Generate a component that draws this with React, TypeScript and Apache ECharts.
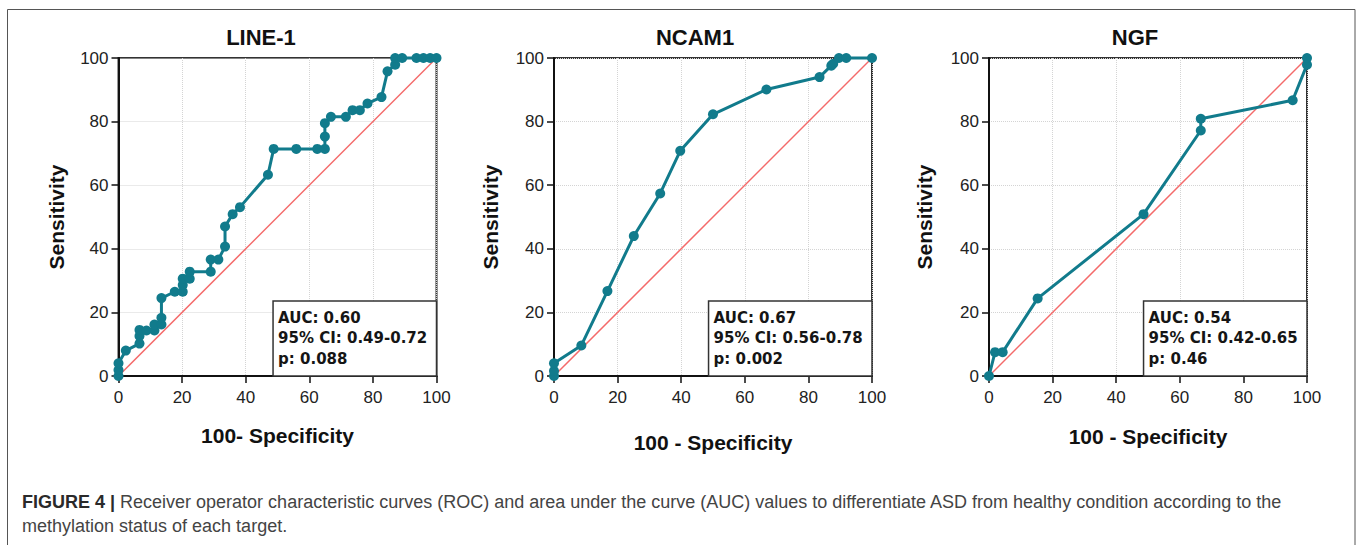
import React, { useEffect, useRef } from "react";
import * as echarts from "echarts";

const panelTitles = ["LINE-1", "NCAM1", "NGF"];
const xAxisNames = ["100- Specificity", "100 - Specificity", "100 - Specificity"];
const yAxisName = "Sensitivity";

const line1X = [0, 0, 0, 2.3, 6.6, 6.6, 6.6, 8.8, 11.3, 11.3, 13.5, 13.5, 13.5, 17.7, 20.2, 20.2, 20.2, 22.4, 22.4, 29.0, 29.0, 31.4, 33.5, 33.5, 35.9, 38.2, 47.0, 48.8, 55.9, 62.5, 64.9, 64.9, 64.9, 66.8, 71.5, 73.6, 75.9, 78.3, 82.7, 84.6, 87.0, 87.0, 89.2, 93.7, 95.9, 98.0, 100];
const line1Y = [0, 1.9, 4.0, 8.0, 10.2, 12.6, 14.5, 14.3, 14.3, 16.2, 16.2, 18.3, 24.5, 26.5, 26.5, 28.6, 30.6, 30.6, 32.8, 32.8, 36.6, 36.6, 40.7, 47.0, 50.9, 53.1, 63.3, 71.4, 71.4, 71.4, 71.4, 75.3, 79.5, 81.5, 81.5, 83.6, 83.6, 85.7, 87.7, 95.8, 97.9, 100, 100, 100, 100, 100, 100];

const ncam1X = [0, 0, 0, 8.6, 16.8, 25.1, 33.4, 39.7, 50.0, 66.8, 83.5, 87.2, 87.8, 89.6, 91.9, 100];
const ncam1Y = [0, 1.6, 4.0, 9.6, 26.7, 44.0, 57.4, 70.8, 82.3, 90.1, 94.0, 97.6, 98.2, 100, 100, 100];

const ngfX = [0, 1.9, 4.3, 15.3, 48.6, 66.6, 66.6, 95.5, 100, 100];
const ngfY = [0, 7.5, 7.5, 24.4, 50.9, 77.2, 80.9, 86.7, 97.9, 100];

const aucTexts = [
  ["AUC: 0.60", "95% CI: 0.49-0.72", "p: 0.088"],
  ["AUC: 0.67", "95% CI: 0.56-0.78", "p: 0.002"],
  ["AUC: 0.54", "95% CI: 0.42-0.65", "p: 0.46"],
];

const diagonalX = [0, 100];
const diagonalY = [0, 100];

const captionBold = "FIGURE 4 |";
const captionLine1 =
  " Receiver operator characteristic curves (ROC) and area under the curve (AUC) values to differentiate ASD from healthy condition according to the";
const captionLine2 = "methylation status of each target.";

const FONT = "'Liberation Sans', Arial, Helvetica, sans-serif";
const BOX_FONT = "'DejaVu Sans', Verdana, sans-serif";
const TEAL = "#117b8c";
const RED = "#f46a6a";

const gridLefts = [118.5, 554, 989];
const gridTop = 58;
const gridSize = 318;
const titleCenters = [261, 695, 1135];
const xNameGaps = [49, 56, 50];
const yNameGaps = [52, 53, 54];

function zip(xs: number[], ys: number[]) {
  return xs.map((x, i) => [x, ys[i]]);
}

export default function App() {
  const ref = useRef<HTMLDivElement>(null);

  useEffect(() => {
    document.body.style.margin = "0";
    const chart = echarts.init(ref.current!, undefined, { renderer: "svg" });
    const rocData = [zip(line1X, line1Y), zip(ncam1X, ncam1Y), zip(ngfX, ngfY)];

    const grids = gridLefts.map((left) => ({
      left,
      top: gridTop,
      width: gridSize,
      height: gridSize,
      show: true,
      borderColor: "#333",
      borderWidth: 2,
      backgroundColor: "transparent",
    }));

    const axisCommon = {
      type: "value" as const,
      min: 0,
      max: 100,
      interval: 20,
      axisLine: { show: true, onZero: false, lineStyle: { color: "#111", width: 2 } },
      axisTick: { show: true, inside: false, length: 7, lineStyle: { color: "#111", width: 1.5 } },
      splitLine: { show: true, lineStyle: { color: "#d4d4d4", type: "dotted" as const, width: 1 } },
      nameLocation: "middle" as const,
      nameTextStyle: { fontFamily: FONT, fontWeight: "bold" as const, fontSize: 21, color: "#111" },
    };

    const xAxes = gridLefts.map((_, i) => ({
      ...axisCommon,
      gridIndex: i,
      name: xAxisNames[i],
      nameGap: xNameGaps[i],
      axisLabel: { fontFamily: FONT, fontSize: 17, color: "#222", margin: 13 },
    }));
    const yAxes = gridLefts.map((_, i) => ({
      ...axisCommon,
      gridIndex: i,
      name: yAxisName,
      nameGap: yNameGaps[i],
      axisLabel: { fontFamily: FONT, fontSize: 17, color: "#222", margin: 10 },
    }));

    const series: any[] = [];
    gridLefts.forEach((_, i) => {
      series.push({
        type: "line",
        xAxisIndex: i,
        yAxisIndex: i,
        data: zip(diagonalX, diagonalY),
        showSymbol: false,
        symbol: "none",
        lineStyle: { color: RED, width: 1.5 },
        z: 2,
        silent: true,
      });
      series.push({
        type: "line",
        xAxisIndex: i,
        yAxisIndex: i,
        data: rocData[i],
        symbol: "circle",
        symbolSize: 10,
        showSymbol: true,
        clip: false,
        itemStyle: { color: TEAL },
        lineStyle: { color: TEAL, width: 3 },
        z: 3,
      });
    });

    const graphics: any[] = [
      {
        type: "rect",
        shape: { x: 7.5, y: 9.5, width: 1347.5, height: 600 },
        style: { fill: "none", stroke: "#555", lineWidth: 1 },
        silent: true,
        z: 0,
      },
    ];
    gridLefts.forEach((left, i) => {
      graphics.push({
        type: "text",
        x: titleCenters[i],
        y: 37,
        style: {
          text: panelTitles[i],
          fontFamily: FONT,
          fontWeight: "bold",
          fontSize: 22,
          fill: "#111",
          textAlign: "center",
          textVerticalAlign: "middle",
        },
        z: 100,
      });
      const boxLeft = left + gridSize * 0.486;
      const boxTop = gridTop + gridSize - 75;
      graphics.push({
        type: "rect",
        shape: { x: boxLeft, y: boxTop, width: left + gridSize - boxLeft, height: 75 },
        style: { fill: "#fff", stroke: "#333", lineWidth: 1.5 },
        z: 100,
      });
      aucTexts[i].forEach((t, j) => {
        graphics.push({
          type: "text",
          x: boxLeft + 5,
          y: boxTop + 16.5 + j * 20.8,
          style: {
            text: t,
            fontFamily: BOX_FONT,
            fontWeight: "bold",
            fontSize: 15,
            fill: "#151515",
            textAlign: "left",
            textVerticalAlign: "middle",
          },
          z: 101,
        });
      });
    });
    graphics.push({
      type: "text",
      x: 22,
      y: 502,
      style: {
        text: "{b|" + captionBold + "}{r|" + captionLine1 + "}",
        textVerticalAlign: "middle",
        rich: {
          b: { fontFamily: FONT, fontWeight: "bold", fontSize: 18, fill: "#2a2a2a", color: "#2a2a2a" },
          r: { fontFamily: FONT, fontSize: 18, fill: "#444", color: "#444" },
        },
      },
      z: 100,
    });
    graphics.push({
      type: "text",
      x: 22,
      y: 526,
      style: {
        text: captionLine2,
        fontFamily: FONT,
        fontSize: 18,
        fill: "#444",
        textVerticalAlign: "middle",
      },
      z: 100,
    });

    chart.setOption({
      animation: false,
      backgroundColor: "#fff",
      grid: grids,
      xAxis: xAxes,
      yAxis: yAxes,
      series,
      graphic: graphics,
    });

    return () => chart.dispose();
  }, []);

  return <div ref={ref} style={{ width: 1357, height: 545 }} />;
}
